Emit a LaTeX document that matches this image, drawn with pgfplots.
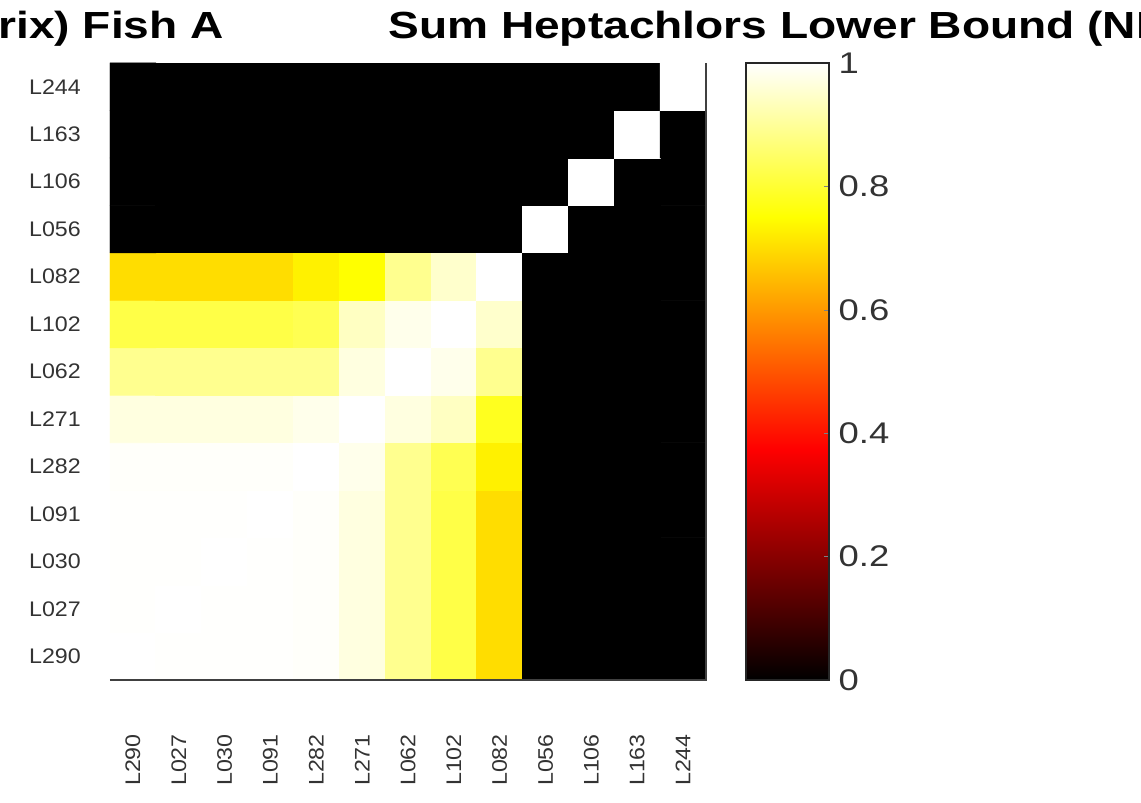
\documentclass[border=0pt]{standalone}
\usepackage{graphicx}
\usepackage{pgfplots}
\pgfplotsset{compat=1.18}
\usepackage{fontspec}
\setmainfont{Liberation Sans}
\newcommand\sxa[1]{\scalebox{1.1}[1]{#1}}
\newcommand\sxb[1]{\scalebox{1.22}[1]{#1}}
\pgfplotsset{colormap={hotm}{rgb(0cm)=(0,0,0) rgb(3cm)=(1,0,0) rgb(6cm)=(1,1,0) rgb(8cm)=(1,1,1)}}
\begin{document}
\begin{tikzpicture}
\begin{axis}[
  at={(2.2cm,2.44cm)}, anchor=south west,
  scale only axis, width=11.92cm, height=12.34cm,
  xmin=-0.5, xmax=12.5, ymin=-0.5, ymax=12.5,
  xtick={0,...,12}, ytick={0,...,12},
  xticklabels={\sxa{L290},\sxa{L027},\sxa{L030},\sxa{L091},\sxa{L282},\sxa{L271},\sxa{L062},\sxa{L102},\sxa{L082},\sxa{L056},\sxa{L106},\sxa{L163},\sxa{L244}},
  yticklabels={\sxa{L290},\sxa{L027},\sxa{L030},\sxa{L091},\sxa{L282},\sxa{L271},\sxa{L062},\sxa{L102},\sxa{L082},\sxa{L056},\sxa{L106},\sxa{L163},\sxa{L244}},
  major tick length=0pt,
  axis line style={draw=none},
  tick label style={font=\fontsize{12}{14}\selectfont, text=black!80},
  xticklabel style={yshift=-0.96cm, rotate=90, anchor=east},
  yticklabel style={xshift=-0.46cm},
  colormap name=hotm,
  point meta min=0, point meta max=1,
  after end axis/.code={\draw[line width=0.9pt, black!75] (rel axis cs:0,0) -- (rel axis cs:1,0) -- (rel axis cs:1,1);},
]
\addplot[matrix plot*, mesh/cols=13, point meta=explicit] table[row sep=\\, meta=c] {
x y c\\
0 0 1\\ 1 0 0.998\\ 2 0 0.998\\ 3 0 0.998\\ 4 0 0.995\\ 5 0 0.97\\ 6 0 0.89\\ 7 0 0.82\\ 8 0 0.70\\ 9 0 0\\ 10 0 0\\ 11 0 0\\ 12 0 0\\
0 1 0.998\\ 1 1 1\\ 2 1 0.998\\ 3 1 0.998\\ 4 1 0.995\\ 5 1 0.97\\ 6 1 0.89\\ 7 1 0.82\\ 8 1 0.70\\ 9 1 0\\ 10 1 0\\ 11 1 0\\ 12 1 0\\
0 2 0.998\\ 1 2 0.998\\ 2 2 1\\ 3 2 0.998\\ 4 2 0.995\\ 5 2 0.97\\ 6 2 0.89\\ 7 2 0.82\\ 8 2 0.70\\ 9 2 0\\ 10 2 0\\ 11 2 0\\ 12 2 0\\
0 3 0.998\\ 1 3 0.998\\ 2 3 0.998\\ 3 3 1\\ 4 3 0.995\\ 5 3 0.97\\ 6 3 0.89\\ 7 3 0.82\\ 8 3 0.70\\ 9 3 0\\ 10 3 0\\ 11 3 0\\ 12 3 0\\
0 4 0.995\\ 1 4 0.995\\ 2 4 0.995\\ 3 4 0.995\\ 4 4 1\\ 5 4 0.98\\ 6 4 0.89\\ 7 4 0.83\\ 8 4 0.73\\ 9 4 0\\ 10 4 0\\ 11 4 0\\ 12 4 0\\
0 5 0.97\\ 1 5 0.97\\ 2 5 0.97\\ 3 5 0.97\\ 4 5 0.98\\ 5 5 1\\ 6 5 0.97\\ 7 5 0.94\\ 8 5 0.78\\ 9 5 0\\ 10 5 0\\ 11 5 0\\ 12 5 0\\
0 6 0.89\\ 1 6 0.89\\ 2 6 0.89\\ 3 6 0.89\\ 4 6 0.89\\ 5 6 0.97\\ 6 6 1\\ 7 6 0.98\\ 8 6 0.89\\ 9 6 0\\ 10 6 0\\ 11 6 0\\ 12 6 0\\
0 7 0.82\\ 1 7 0.82\\ 2 7 0.82\\ 3 7 0.82\\ 4 7 0.83\\ 5 7 0.94\\ 6 7 0.98\\ 7 7 1\\ 8 7 0.95\\ 9 7 0\\ 10 7 0\\ 11 7 0\\ 12 7 0\\
0 8 0.70\\ 1 8 0.70\\ 2 8 0.70\\ 3 8 0.70\\ 4 8 0.73\\ 5 8 0.75\\ 6 8 0.89\\ 7 8 0.95\\ 8 8 1\\ 9 8 0\\ 10 8 0\\ 11 8 0\\ 12 8 0\\
0 9 0\\ 1 9 0\\ 2 9 0\\ 3 9 0\\ 4 9 0\\ 5 9 0\\ 6 9 0\\ 7 9 0\\ 8 9 0\\ 9 9 1\\ 10 9 0\\ 11 9 0\\ 12 9 0\\
0 10 0\\ 1 10 0\\ 2 10 0\\ 3 10 0\\ 4 10 0\\ 5 10 0\\ 6 10 0\\ 7 10 0\\ 8 10 0\\ 9 10 0\\ 10 10 1\\ 11 10 0\\ 12 10 0\\
0 11 0\\ 1 11 0\\ 2 11 0\\ 3 11 0\\ 4 11 0\\ 5 11 0\\ 6 11 0\\ 7 11 0\\ 8 11 0\\ 9 11 0\\ 10 11 0\\ 11 11 1\\ 12 11 0\\
0 12 0\\ 1 12 0\\ 2 12 0\\ 3 12 0\\ 4 12 0\\ 5 12 0\\ 6 12 0\\ 7 12 0\\ 8 12 0\\ 9 12 0\\ 10 12 0\\ 11 12 0\\ 12 12 1\\
};
\end{axis}
% colour bar
\begin{axis}[
  at={(14.92cm,2.44cm)}, anchor=south west,
  scale only axis, width=1.66cm, height=12.34cm,
  xmin=0, xmax=1, ymin=0, ymax=1,
  xtick=\empty,
  ytick={0,0.2,0.4,0.6,0.8,1},
  ytick pos=right,
  tick align=inside, major tick length=0.1cm,
  yticklabel style={font=\fontsize{17}{20}\selectfont, text=black!80, xshift=2pt},
  yticklabel={\sxb{\pgfmathprintnumber{\tick}}},
  /pgf/number format/assume math mode=true,
  axis line style={line width=0.6pt, black!85},
  colormap name=hotm,
  point meta min=0, point meta max=1,
  axis on top,
]
\addplot[surf, shader=interp, mesh/cols=2, point meta=explicit] coordinates {
(0,0) [0] (1,0) [0]
(0,0.375) [0.375] (1,0.375) [0.375]
(0,0.75) [0.75] (1,0.75) [0.75]
(0,1) [1] (1,1) [1]
};
\end{axis}
\node[anchor=base west, inner sep=0pt, font=\fontsize{21.5}{24}\selectfont\bfseries] at (-0.04cm,15.26cm) {\sxb{rix) Fish A}};
\node[anchor=base west, inner sep=0pt, font=\fontsize{21.5}{24}\selectfont\bfseries] at (7.76cm,15.26cm) {\sxb{Sum Heptachlors Lower Bound (NI}};
\pgfresetboundingbox
\path[use as bounding box] (0,0) rectangle (22.82cm,16.04cm);
\end{tikzpicture}
\end{document}
